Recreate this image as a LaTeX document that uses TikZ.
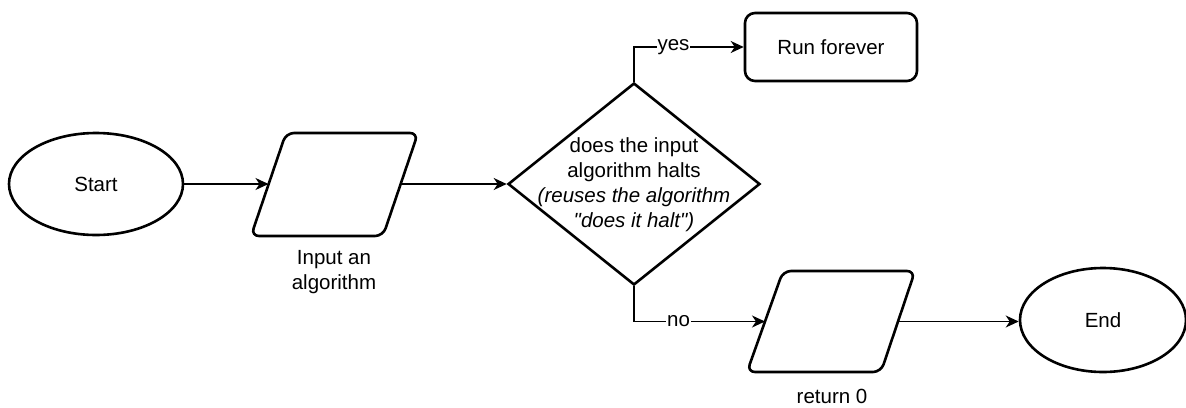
\documentclass[tikz,border=0pt]{standalone}
\usepackage{fontspec}
\setmainfont{Liberation Sans}
\usetikzlibrary{shapes.geometric,arrows.meta}
\tikzset{
  shp/.style={draw=black, line width=2.6pt, fill=white, inner sep=0pt},
  term/.style={shp, ellipse},
  iopath/.style={draw=black, line width=2.6pt, fill=white, rounded corners=8pt, line join=round},
  decis/.style={shp, diamond},
  procbox/.style={shp, rectangle, rounded corners=10pt},
  conn/.style={line width=1.5pt, -{Stealth[length=13pt,width=12pt,inset=4pt]}},
  elab/.style={fill=white, inner sep=1pt},
  txt/.style={font=\fontsize{20.5}{25}\selectfont, align=center}
}
\begin{document}
\begin{tikzpicture}[x=1pt,y=-1pt]
\useasboundingbox (0,0) rectangle (1186,407);
\node[term, txt, minimum width=174pt, minimum height=102pt] (start) at (96,184) {Start};
% input parallelogram
\draw[iopath] (286,133) -- (418,133) -- (383,236) -- (251,236) -- cycle;
\coordinate (inpL) at (268.5,184);
\coordinate (inpR) at (400.5,184);
\node[txt] (inplab) at (334,272) {Input an\\algorithm};
\node[decis, minimum width=252pt, minimum height=202pt] (dia) at (634,184) {};
\node[txt] (diatxt) at (634,185) {does the input\\algorithm halts\\\textit{(reuses the algorithm}\\\textit{\textquotedbl does it halt\textquotedbl)}};
\node[procbox, txt, minimum width=172pt, minimum height=68pt] (run) at (831,47) {Run forever};
% return parallelogram
\draw[iopath] (783,271) -- (915,271) -- (881,372) -- (747,372) -- cycle;
\coordinate (retL) at (765,321.5);
\coordinate (retR) at (898,321.5);
\node[txt] (retlab) at (832,396) {return 0};
\node[term, txt, minimum width=166pt, minimum height=104pt] (end) at (1103,320) {End};
\draw[conn] (start.east |- inpL) -- (inpL);
\draw[conn] (inpR) -- (dia.west);
\draw[conn] (dia.north) |- node[elab, txt, pos=0.68] {yes} (run.west);
\draw[conn] (dia.south) |- node[elab, txt, pos=0.67] {no} (retL);
\draw[conn] (retR) -- (end.west |- retR);
\end{tikzpicture}
\end{document}
